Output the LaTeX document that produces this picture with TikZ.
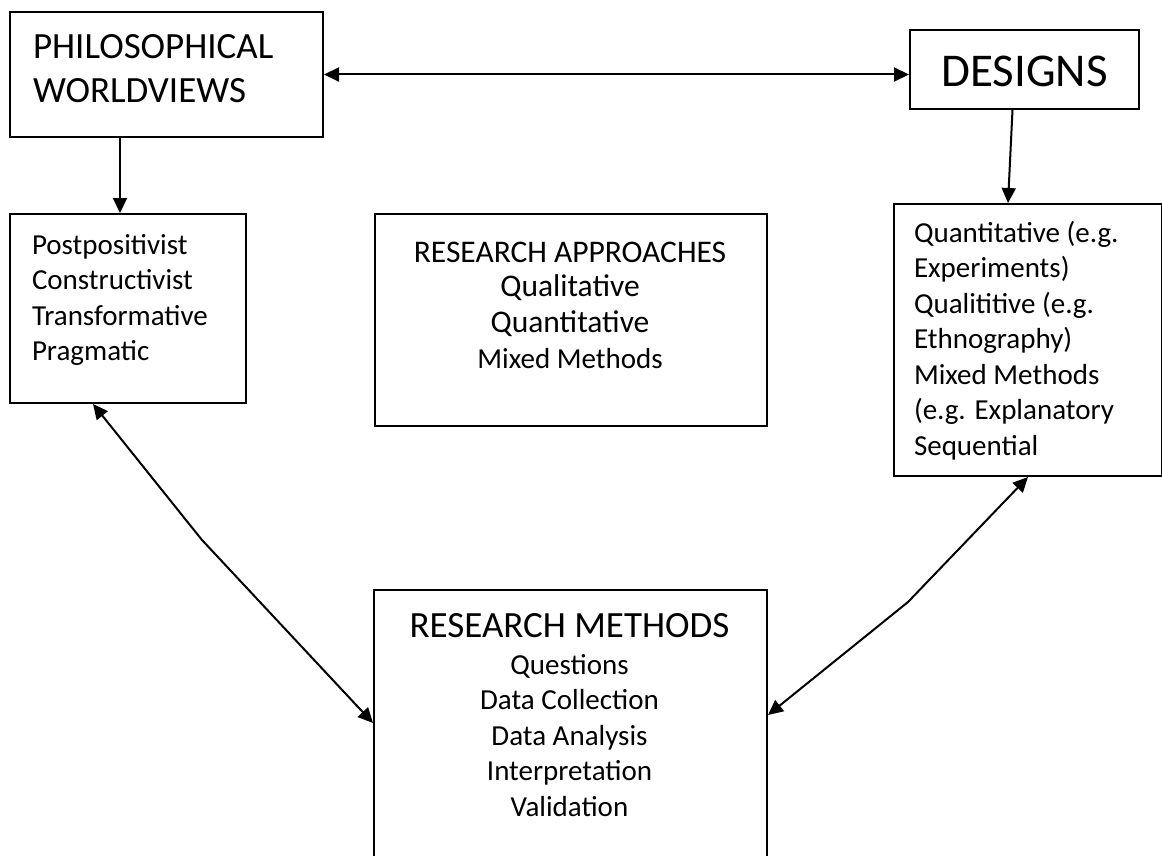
\documentclass[tikz,border=0pt]{standalone}
\usepackage{fontspec}
\setmainfont{Carlito}
\usetikzlibrary{arrows.meta, positioning}

\begin{document}
\begin{tikzpicture}[x=1pt, y=-1pt, line width=2pt,
    box/.style={draw, rectangle, inner sep=0pt, anchor=north west},
    txt/.style={inner sep=0pt, anchor=north west, align=left, font=\fontsize{29}{35.5}\selectfont},
    mid/.style={inner sep=0pt, anchor=north, align=center, font=\fontsize{29}{35.5}\selectfont},
    link/.style={{Triangle[length=15pt,width=14pt]}-{Triangle[length=15pt,width=14pt]}},
    down/.style={-{Triangle[length=15pt,width=14pt]}}]
      \useasboundingbox (0,0) rectangle (1162,856);

      % boxes
      \node[box, minimum width=313pt, minimum height=125pt] (pw) at (9,11) {};
      \node[box, minimum width=229pt, minimum height=79pt] (ds) at (909,29) {};
      \node[box, minimum width=236pt, minimum height=189pt] (pp) at (9,213) {};
      \node[box, minimum width=392pt, minimum height=212pt] (ra) at (374,213) {};
      \node[box, minimum width=268pt, minimum height=272pt] (dl) at (893,203) {};
      \node[box, minimum width=393pt, minimum height=300pt] (rm) at (373,589) {};

      % texts
      \node[txt, font=\fontsize{37}{44}\selectfont] (pwtext) at (32,33) {PHILOSOPHICAL\\WORLDVIEWS};
      \node[inner sep=0pt, font=\fontsize{47}{56}\selectfont, yshift=-2pt] (dstext) at (ds.center) {DESIGNS};
      \node[txt] (pptext) at (31,233) {Postpositivist\\Constructivist\\Transformative\\Pragmatic};
      \node[txt] (dltext) at (913,220) {Quantitative (e.g.\\Experiments)\\Qualititive (e.g.\\Ethnography)\\Mixed Methods\\(e.g. Explanatory\\Sequential};
      \node[mid, font=\fontsize{31.5}{37}\selectfont] (ratitle) at (570,241) {RESEARCH APPROACHES};
      \node[mid, font=\fontsize{31.5}{36}\selectfont] (ralist) at (570,274) {Qualitative\\Quantitative\\{\fontsize{29}{35.5}\selectfont Mixed Methods}};
      \node[mid, font=\fontsize{37}{44}\selectfont] (rmtitle) at (569.5,612) {RESEARCH METHODS};
      \node[mid] (rmlist) at (569.5,653) {Questions\\Data Collection\\Data Analysis\\Interpretation\\Validation};

      % connectors
      \coordinate (lbend) at (202,540);
      \coordinate (rbend) at (908,602);
      \draw[link] (pw.east) -- (pw.east -| ds.west);
      \draw[down] ([xshift=-8pt]pp.north |- pw.south) -- ([xshift=-8pt]pp.north);
      \draw[down] ([xshift=-12pt]ds.south) -- ([xshift=-20pt]dl.north);
      \draw[link] ([xshift=-35pt]pp.south) -- (lbend) -- ([yshift=-134pt]rm.north west);
      \draw[link] ([yshift=-126pt]rm.north east) -- (rbend) -- (dl.south);
    \end{tikzpicture}
\end{document}
